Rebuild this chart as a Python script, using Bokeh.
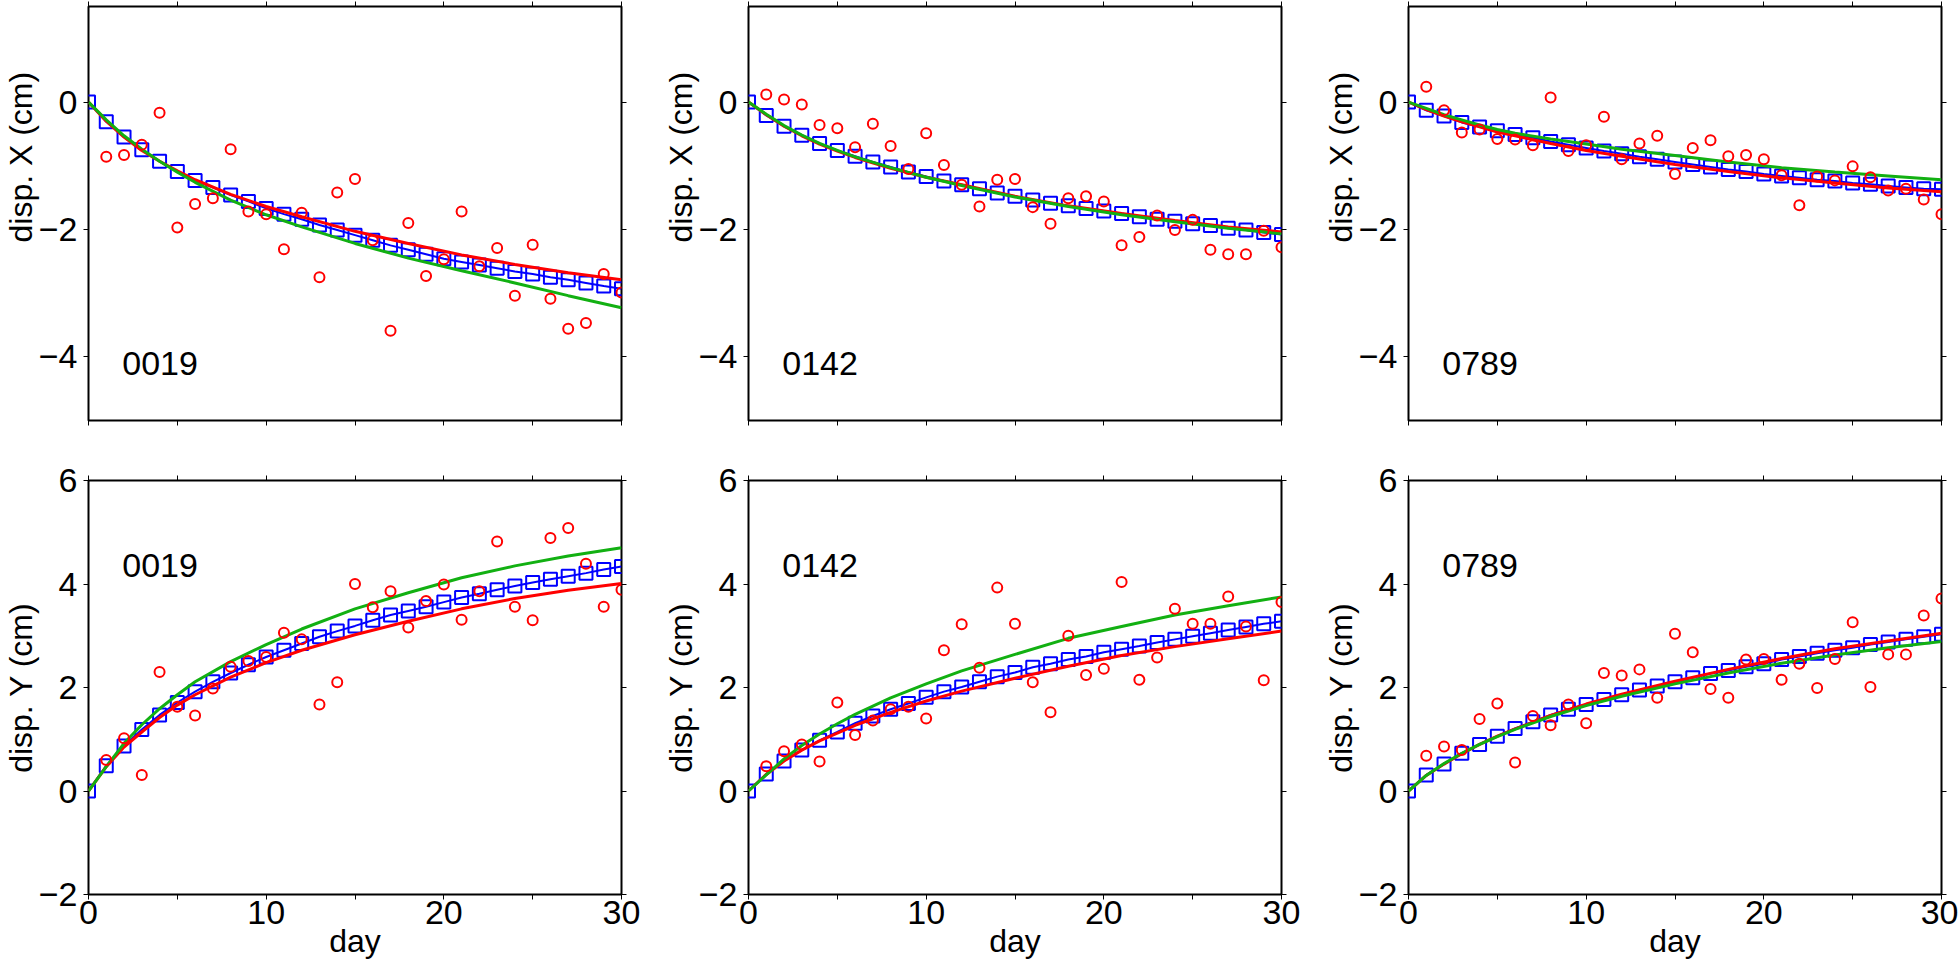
from bokeh.plotting import figure
from bokeh.layouts import column, row
from bokeh.models import Range1d, LinearAxis, FixedTicker, Label, Title, CustomJSTickFormatter
from bokeh.embed import file_html
from bokeh.resources import INLINE

# ---------------- data ----------------
days = list(range(31))            # model (blue squares)
obs_days = list(range(1, 31))     # observations (red circles)
line_days = [0, 1, 2, 3, 4, 5, 6, 8, 10, 12, 15, 18, 21, 24, 27, 30]  # fitted curves

sites = ["0019", "0142", "0789"]
x_title = "disp. X (cm)"
y_title = "disp. Y (cm)"
day_title = "day"

# disp. X
x0019_obs = [-0.86, -0.83, -0.67, -0.17, -1.97, -1.60, -1.51, -0.74, -1.72, -1.76,
             -2.31, -1.74, -2.75, -1.42, -1.21, -2.17, -3.59, -1.90, -2.73, -2.47,
             -1.72, -2.58, -2.29, -3.04, -2.24, -3.09, -3.56, -3.47, -2.70, -2.99]
x0019_model = [0, -0.31, -0.55, -0.75, -0.93, -1.09, -1.23, -1.34, -1.46, -1.56,
               -1.67, -1.76, -1.84, -1.93, -2.01, -2.09, -2.17, -2.25, -2.32, -2.39,
               -2.46, -2.51, -2.56, -2.61, -2.66, -2.70, -2.75, -2.79, -2.84, -2.89, -2.93]
x0019_red = [0, -0.30, -0.55, -0.76, -0.93, -1.08, -1.22, -1.45, -1.64, -1.80,
             -2.03, -2.22, -2.40, -2.55, -2.68, -2.79]
x0019_green = [0, -0.28, -0.53, -0.74, -0.93, -1.10, -1.26, -1.54, -1.77, -1.96,
               -2.22, -2.45, -2.65, -2.84, -3.04, -3.23]

x0142_obs = [0.12, 0.04, -0.04, -0.36, -0.41, -0.71, -0.34, -0.69, -1.05, -0.49,
             -0.99, -1.30, -1.64, -1.22, -1.21, -1.65, -1.91, -1.51, -1.48, -1.56,
             -2.25, -2.12, -1.78, -2.01, -1.85, -2.32, -2.39, -2.39, -2.02, -2.28]
x0142_model = [0, -0.21, -0.38, -0.52, -0.65, -0.76, -0.85, -0.94, -1.02, -1.10,
               -1.17, -1.24, -1.30, -1.36, -1.43, -1.48, -1.54, -1.59, -1.63, -1.67,
               -1.71, -1.75, -1.80, -1.84, -1.87, -1.91, -1.94, -1.98, -2.01, -2.05, -2.08]
x0142_red = [0, -0.20, -0.38, -0.53, -0.66, -0.77, -0.87, -1.04, -1.18, -1.30,
             -1.48, -1.63, -1.75, -1.86, -1.96, -2.04]
x0142_green = [0, -0.19, -0.37, -0.52, -0.65, -0.76, -0.86, -1.03, -1.18, -1.31,
               -1.49, -1.64, -1.77, -1.88, -1.98, -2.07]

x0789_obs = [0.24, -0.13, -0.48, -0.43, -0.58, -0.59, -0.68, 0.07, -0.77, -0.68,
             -0.23, -0.90, -0.65, -0.53, -1.13, -0.72, -0.60, -0.85, -0.83, -0.90,
             -1.15, -1.62, -1.17, -1.23, -1.01, -1.18, -1.39, -1.36, -1.53, -1.76]
x0789_model = [0, -0.13, -0.22, -0.32, -0.39, -0.45, -0.51, -0.56, -0.62, -0.67,
               -0.72, -0.77, -0.81, -0.86, -0.90, -0.94, -0.98, -1.02, -1.06, -1.09,
               -1.13, -1.16, -1.19, -1.22, -1.24, -1.27, -1.29, -1.32, -1.34, -1.36, -1.37]
x0789_red = [0, -0.12, -0.22, -0.31, -0.39, -0.47, -0.53, -0.65, -0.76, -0.85,
             -0.98, -1.09, -1.19, -1.27, -1.35, -1.41]
x0789_green = [0, -0.10, -0.20, -0.28, -0.36, -0.43, -0.49, -0.58, -0.66, -0.74,
               -0.84, -0.94, -1.03, -1.10, -1.16, -1.22]

# disp. Y
y0019_obs = [0.60, 1.02, 0.31, 2.30, 1.63, 1.46, 1.98, 2.40, 2.51, 2.59,
             3.06, 2.93, 1.67, 2.10, 4.00, 3.55, 3.86, 3.16, 3.67, 3.99,
             3.31, 3.86, 4.82, 3.56, 3.30, 4.89, 5.08, 4.39, 3.56, 3.89]
y0019_model = [0, 0.49, 0.87, 1.19, 1.47, 1.71, 1.92, 2.11, 2.28, 2.44,
               2.59, 2.72, 2.85, 2.98, 3.09, 3.19, 3.30, 3.40, 3.48, 3.56,
               3.65, 3.74, 3.81, 3.89, 3.96, 4.03, 4.09, 4.15, 4.21, 4.28, 4.34]
y0019_red = [0, 0.47, 0.85, 1.14, 1.42, 1.66, 1.86, 2.20, 2.48, 2.72,
             3.02, 3.28, 3.52, 3.72, 3.88, 4.01]
y0019_green = [0, 0.47, 0.92, 1.28, 1.59, 1.86, 2.11, 2.50, 2.83, 3.13,
               3.52, 3.83, 4.12, 4.35, 4.54, 4.70]

y0142_obs = [0.48, 0.77, 0.90, 0.57, 1.71, 1.08, 1.36, 1.58, 1.63, 1.40,
             2.72, 3.22, 2.38, 3.93, 3.23, 2.10, 1.52, 3.00, 2.24, 2.36,
             4.04, 2.15, 2.58, 3.52, 3.23, 3.23, 3.76, 3.18, 2.14, 3.65]
y0142_model = [0, 0.33, 0.58, 0.79, 0.98, 1.14, 1.31, 1.45, 1.58, 1.69,
               1.81, 1.92, 2.01, 2.11, 2.21, 2.29, 2.39, 2.46, 2.54, 2.60,
               2.68, 2.74, 2.80, 2.87, 2.93, 2.99, 3.05, 3.11, 3.17, 3.23, 3.28]
y0142_red = [0, 0.32, 0.58, 0.79, 0.97, 1.12, 1.27, 1.52, 1.74, 1.93,
             2.18, 2.41, 2.62, 2.79, 2.94, 3.09]
y0142_green = [0, 0.31, 0.62, 0.88, 1.10, 1.30, 1.48, 1.80, 2.07, 2.32,
               2.64, 2.95, 3.18, 3.40, 3.58, 3.75]

y0789_obs = [0.68, 0.86, 0.79, 1.39, 1.69, 0.55, 1.45, 1.27, 1.67, 1.31,
             2.28, 2.23, 2.35, 1.80, 3.04, 2.68, 1.97, 1.80, 2.54, 2.55,
             2.15, 2.46, 1.99, 2.55, 3.26, 2.01, 2.64, 2.64, 3.39, 3.72]
y0789_model = [0, 0.31, 0.52, 0.73, 0.90, 1.06, 1.21, 1.34, 1.47, 1.58,
               1.67, 1.77, 1.86, 1.95, 2.03, 2.11, 2.19, 2.27, 2.33, 2.40,
               2.46, 2.54, 2.60, 2.66, 2.72, 2.77, 2.83, 2.88, 2.93, 2.98, 3.03]
y0789_red = [0, 0.30, 0.52, 0.72, 0.90, 1.06, 1.20, 1.46, 1.68, 1.87,
             2.12, 2.35, 2.56, 2.75, 2.90, 3.05]
y0789_green = [0, 0.30, 0.53, 0.73, 0.90, 1.05, 1.19, 1.44, 1.65, 1.83,
               2.07, 2.28, 2.47, 2.63, 2.77, 2.89]

x_ticks = [0, 10, 20, 30]
x_minor_ticks = [5, 15, 25]
x_yticks = [-4, -2, 0]
y_yticks = [-2, 0, 2, 4, 6]
x_yrange = (-5, 1.5)
y_yrange = (-2, 6)

# ---------------- style ----------------
FONT = "Liberation Sans"
TICK_FS = "34px"
LABEL_FS = "32px"
RED = "#ff0000"
BLUE = "#0000ff"
GREEN = "#12b012"

minus_fmt = CustomJSTickFormatter(code="return tick < 0 ? '\u2212' + Math.abs(tick) : String(tick);")


def style_axis(ax, show_labels):
    ax.axis_line_color = None
    ax.major_tick_line_color = "black"
    ax.minor_tick_line_color = "black"
    ax.major_tick_line_width = 1
    ax.minor_tick_line_width = 1
    ax.major_tick_in = 0
    ax.major_tick_out = 5
    ax.minor_tick_in = 0
    ax.minor_tick_out = 5
    if show_labels:
        ax.major_label_text_font = FONT
        ax.major_label_text_font_size = TICK_FS
        ax.major_label_text_color = "black"
        ax.formatter = minus_fmt
    else:
        ax.formatter = CustomJSTickFormatter(code="return '';")
        ax.major_label_text_font_size = "0px"
        ax.major_label_standoff = 0


def make_panel(obs, model, red_fit, green_fit, yr, yt, ylabel, ylabel_align, ylabel_offset,
               site, site_y, bottom, last_col):
    w = 638 if last_col else 660
    if bottom:
        h, bt, bb = 522, 30, 78
    else:
        h, bt, bb = 450, 6, 30
    p = figure(width=w, height=h, output_backend="svg", toolbar_location=None,
               x_range=Range1d(0, 30), y_range=Range1d(*yr),
               min_border_left=88, min_border_right=(17 if last_col else 39),
               min_border_top=bt, min_border_bottom=bb,
               x_axis_location=None, y_axis_location=None)
    p.grid.visible = False
    p.outline_line_color = "black"
    p.outline_line_width = 2
    p.background_fill_color = "white"
    p.border_fill_color = "white"

    left = LinearAxis(ticker=FixedTicker(ticks=yt, minor_ticks=[]))
    style_axis(left, True)
    left.major_label_standoff = 6
    p.add_layout(left, "left")
    # y-axis title in the left side panel
    p.add_layout(Title(text=ylabel, align=ylabel_align, offset=ylabel_offset, standoff=-7,
                       text_font=FONT, text_font_size=LABEL_FS, text_font_style="normal",
                       text_color="black"), "left")

    right = LinearAxis(ticker=FixedTicker(ticks=yt, minor_ticks=[]))
    style_axis(right, False)
    p.add_layout(right, "right")

    below = LinearAxis(ticker=FixedTicker(ticks=x_ticks, minor_ticks=x_minor_ticks))
    if bottom:
        style_axis(below, True)
        below.major_label_standoff = 1
        below.axis_label = day_title
        below.axis_label_text_font = FONT
        below.axis_label_text_font_size = LABEL_FS
        below.axis_label_text_font_style = "normal"
        below.axis_label_text_color = "black"
        below.axis_label_standoff = -4
    else:
        style_axis(below, False)
    p.add_layout(below, "below")

    above = LinearAxis(ticker=FixedTicker(ticks=x_ticks, minor_ticks=x_minor_ticks))
    style_axis(above, False)
    p.add_layout(above, "above")

    # model: blue squares joined by a line
    p.line(days, model, line_color=BLUE, line_width=2)
    p.scatter(days, model, marker="square", size=13, fill_color=None,
              line_color=BLUE, line_width=2)
    # fitted curves
    p.line(line_days, red_fit, line_color=RED, line_width=3)
    p.line(line_days, green_fit, line_color=GREEN, line_width=3)
    # observations
    p.scatter(obs_days, obs, marker="circle", size=10, fill_color=None,
              line_color=RED, line_width=2)

    # site id inside the frame
    p.add_layout(Label(x=1.9, y=site_y, text=site, text_font=FONT,
                       text_font_size=TICK_FS, text_color="black",
                       text_align="left", text_baseline="alphabetic"))
    return p


top_panels = [
    make_panel(x0019_obs, x0019_model, x0019_red, x0019_green, x_yrange, x_yticks,
               x_title, "left", 178, sites[0], -4.1, False, False),
    make_panel(x0142_obs, x0142_model, x0142_red, x0142_green, x_yrange, x_yticks,
               x_title, "left", 178, sites[1], -4.1, False, False),
    make_panel(x0789_obs, x0789_model, x0789_red, x0789_green, x_yrange, x_yticks,
               x_title, "left", 178, sites[2], -4.1, False, True),
]
bottom_panels = [
    make_panel(y0019_obs, y0019_model, y0019_red, y0019_green, y_yrange, y_yticks,
               y_title, "center", 0, sites[0], 4.36, True, False),
    make_panel(y0142_obs, y0142_model, y0142_red, y0142_green, y_yrange, y_yticks,
               y_title, "center", 0, sites[1], 4.36, True, False),
    make_panel(y0789_obs, y0789_model, y0789_red, y0789_green, y_yrange, y_yticks,
               y_title, "center", 0, sites[2], 4.36, True, True),
]

layout = column(row(*top_panels, spacing=0), row(*bottom_panels, spacing=0), spacing=0)

with open("out.html", "w") as f:
    f.write(file_html(layout, INLINE))
